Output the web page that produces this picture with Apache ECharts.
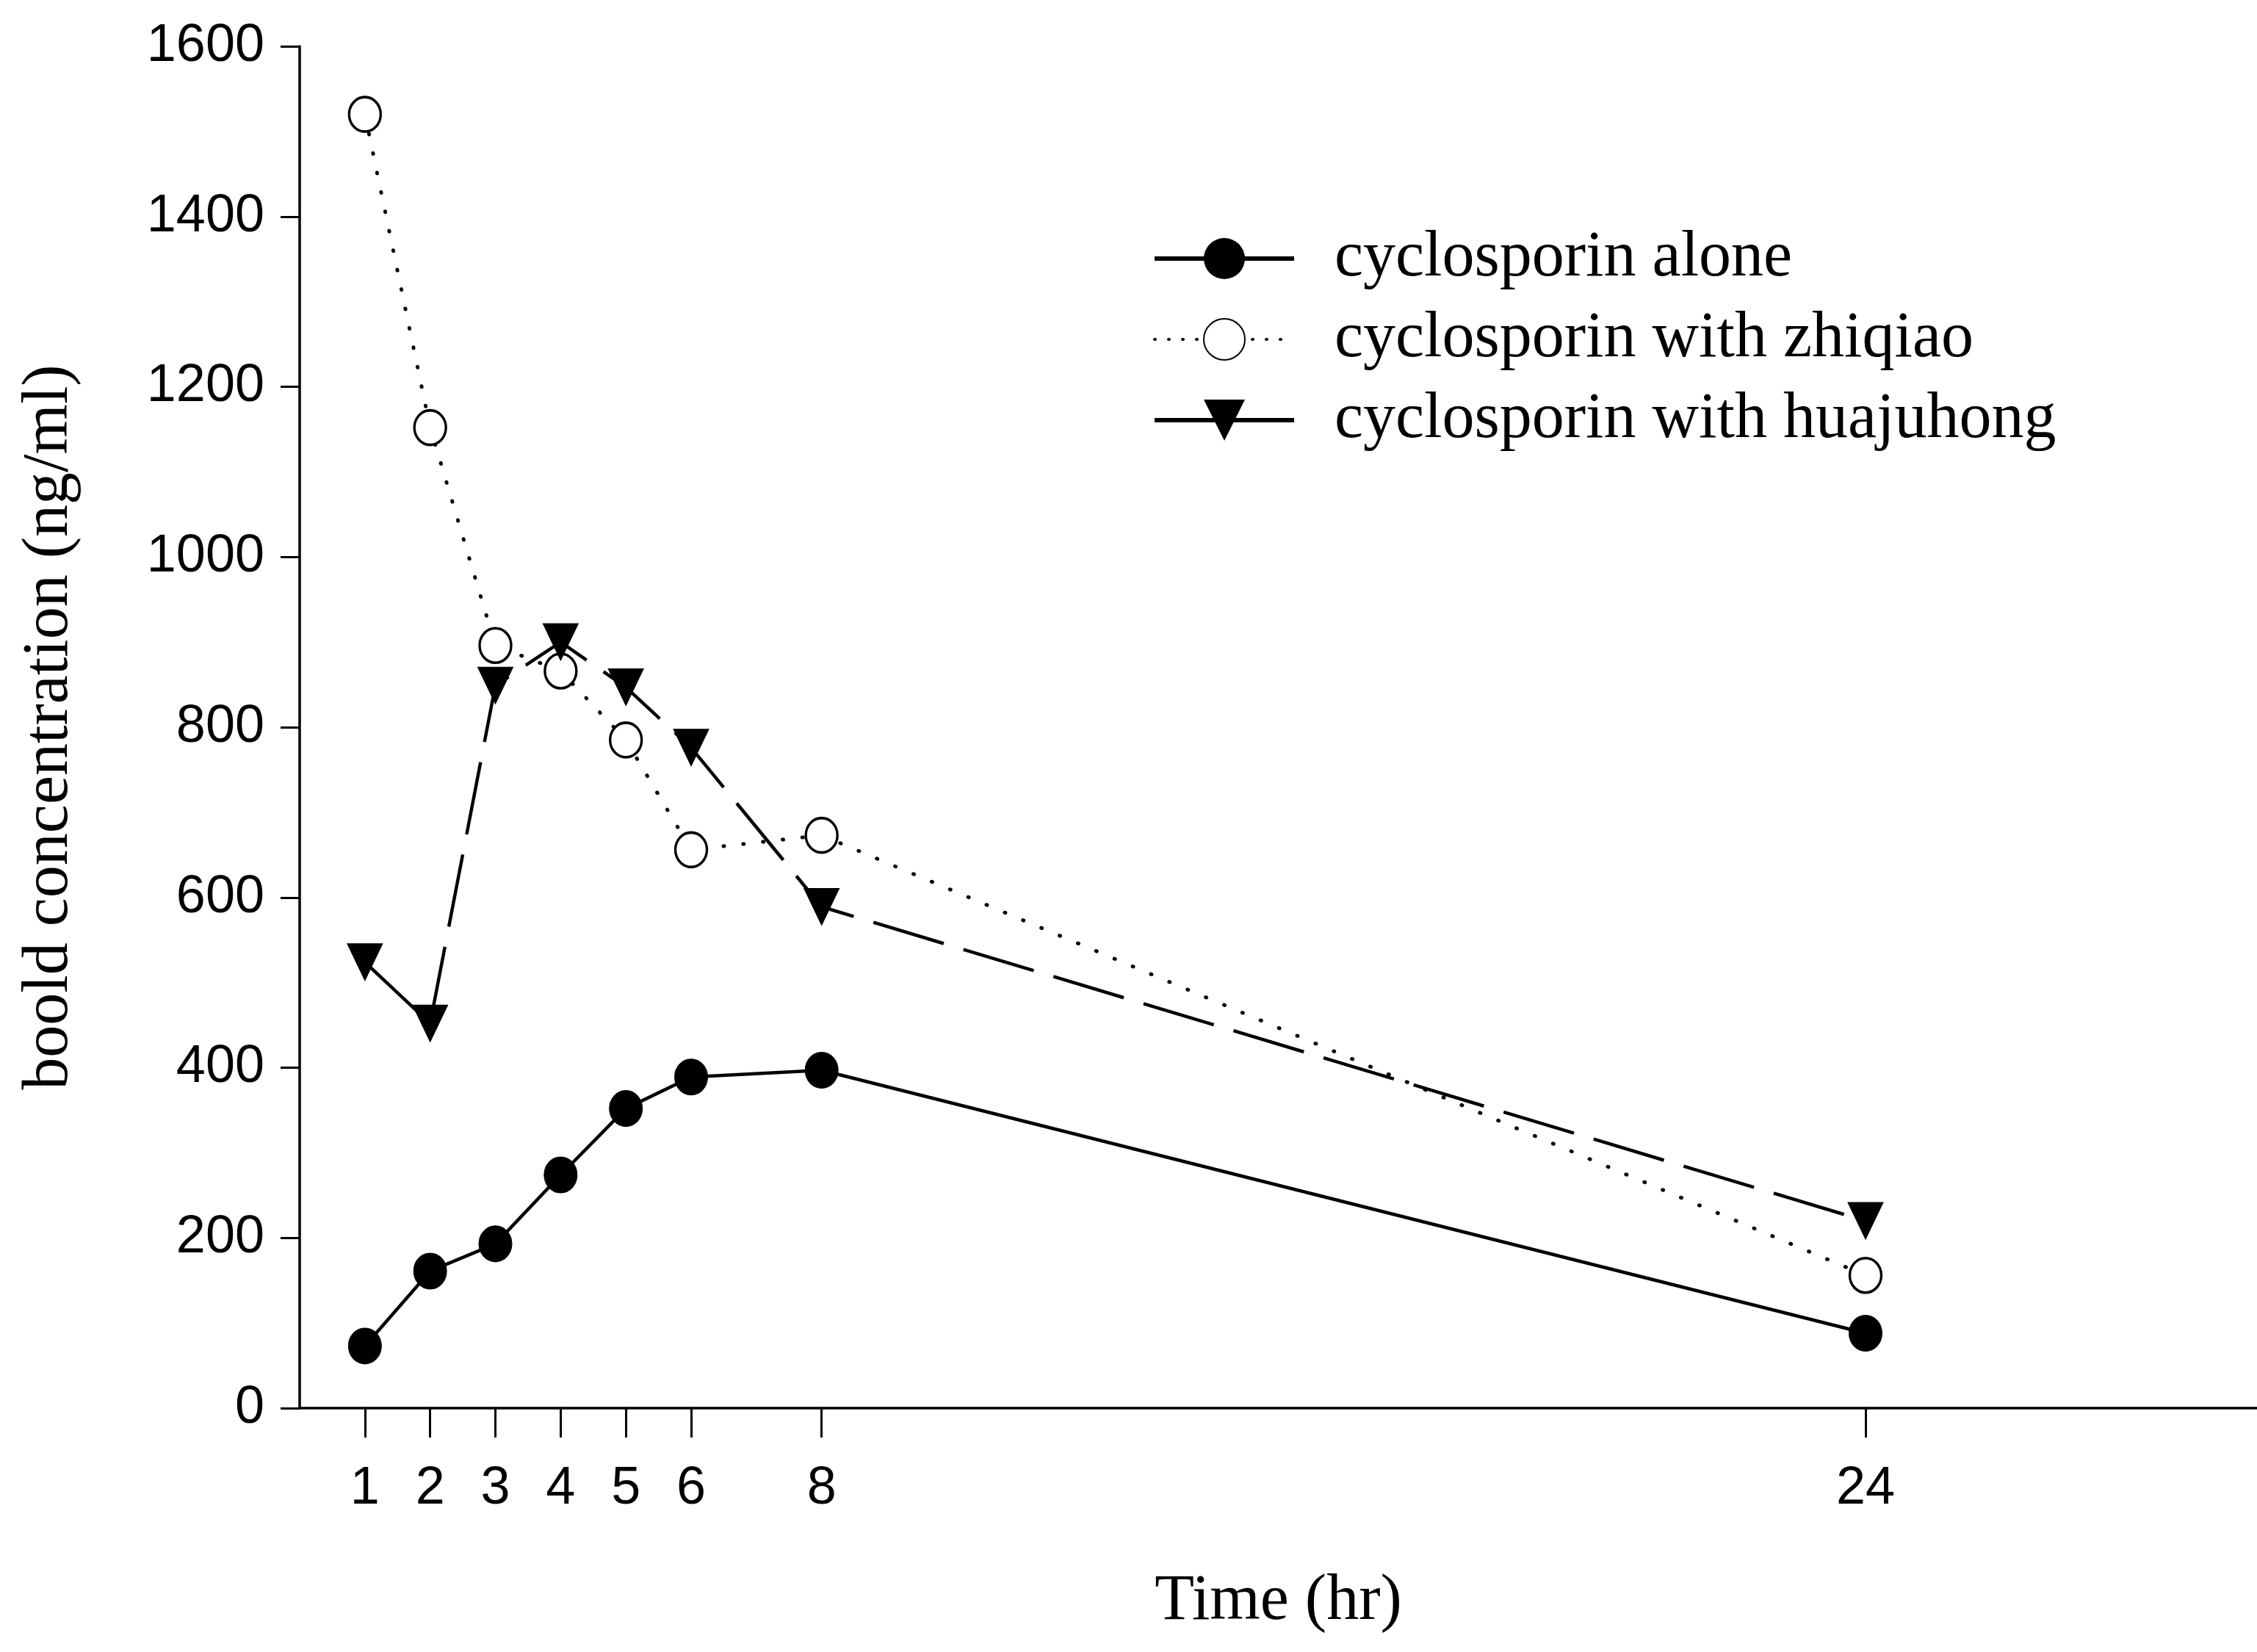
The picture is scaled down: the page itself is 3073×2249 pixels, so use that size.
<!DOCTYPE html>
<html>
<head>
<meta charset="utf-8">
<script src="https://cdn.jsdelivr.net/npm/echarts@6/dist/echarts.min.js"></script>
<style>html,body{margin:0;padding:0;background:#fff}#c{width:3073px;height:2249px}</style>
</head>
<body>
<div id="c"></div>
<script>
const times = [1, 2, 3, 4, 5, 6, 8, 24];
const xTicks = [1, 2, 3, 4, 5, 6, 8, 24];
const yTicks = [0, 200, 400, 600, 800, 1000, 1200, 1400, 1600];
const seriesNames = ['cyclosporin alone', 'cyclosporin with zhiqiao', 'cyclosporin with huajuhong'];
const alone = [73, 161, 193, 274, 352, 389, 397, 88];
const zhiqiao = [1520, 1152, 896, 866, 785, 656, 673, 156];
const huajuhong = [524, 452, 849, 900, 847, 776, 589, 220];

const pairs = v => times.map((t, i) => [t, v[i]]);
const chart = echarts.init(document.getElementById('c'), null, {renderer: 'canvas'});
const sans = 'Liberation Sans, Arial, sans-serif';
const serif = 'Liberation Serif, Times New Roman, serif';

chart.setOption({
  animation: false,
  backgroundColor: '#fff',
  grid: {left: 408, right: 0, top: 63, bottom: 332},
  legend: {
    orient: 'vertical',
    left: 1564,
    top: 302,
    itemWidth: 190,
    itemHeight: 70,
    itemGap: 20,
    data: [
      {name: seriesNames[0], lineStyle: {width: 6, type: 'solid'}},
      {name: seriesNames[1], lineStyle: {width: 4, type: [1, 18], cap: 'round'}},
      {name: seriesNames[2], lineStyle: {width: 6, type: 'solid'}}
    ],
    textStyle: {fontFamily: serif, fontSize: 88, color: '#000', padding: [0, 0, 0, 50], lineHeight: 90}
  },
  xAxis: {
    type: 'value', min: 0, max: 30,
    name: 'Time (hr)', nameLocation: 'middle', nameGap: 220,
    nameTextStyle: {fontFamily: serif, fontSize: 88, color: '#000'},
    axisLine: {lineStyle: {color: '#000', width: 3.5}},
    axisTick: {show: true, length: 40, lineStyle: {color: '#000', width: 3}, customValues: xTicks},
    axisLabel: {fontFamily: sans, fontSize: 72, color: '#000', margin: 74, customValues: xTicks},
    splitLine: {show: false}
  },
  yAxis: {
    type: 'value', min: 0, max: 1600, interval: 200,
    name: 'boold concentration (ng/ml)', nameLocation: 'middle', nameGap: 296,
    nameTextStyle: {fontFamily: serif, fontSize: 88, color: '#000'},
    axisLine: {show: true, lineStyle: {color: '#000', width: 3.5}},
    axisTick: {show: true, length: 26, lineStyle: {color: '#000', width: 3}},
    axisLabel: {fontFamily: sans, fontSize: 72, color: '#000', margin: 48, formatter: v => String(v)},
    splitLine: {show: false}
  },
  series: [
    {
      name: seriesNames[0], type: 'line', data: pairs(alone),
      symbol: 'circle', symbolSize: [45, 49],
      lineStyle: {color: '#000', width: 4.5, type: 'solid'},
      itemStyle: {color: '#000', borderColor: '#000'}
    },
    {
      name: seriesNames[1], type: 'line', data: pairs(zhiqiao),
      symbol: 'circle', symbolSize: [43, 47],
      lineStyle: {color: '#000', width: 5, type: [1, 26], cap: 'round'},
      itemStyle: {color: '#fff', borderColor: '#000', borderWidth: 3.5}
    },
    {
      name: seriesNames[2], type: 'line', data: pairs(huajuhong),
      symbol: 'triangle', symbolRotate: 180, symbolSize: [48, 50],
      lineStyle: {color: '#000', width: 4.5, type: [100, 28]},
      itemStyle: {color: '#000', borderColor: '#000'}
    }
  ]
});
</script>
</body>
</html>
